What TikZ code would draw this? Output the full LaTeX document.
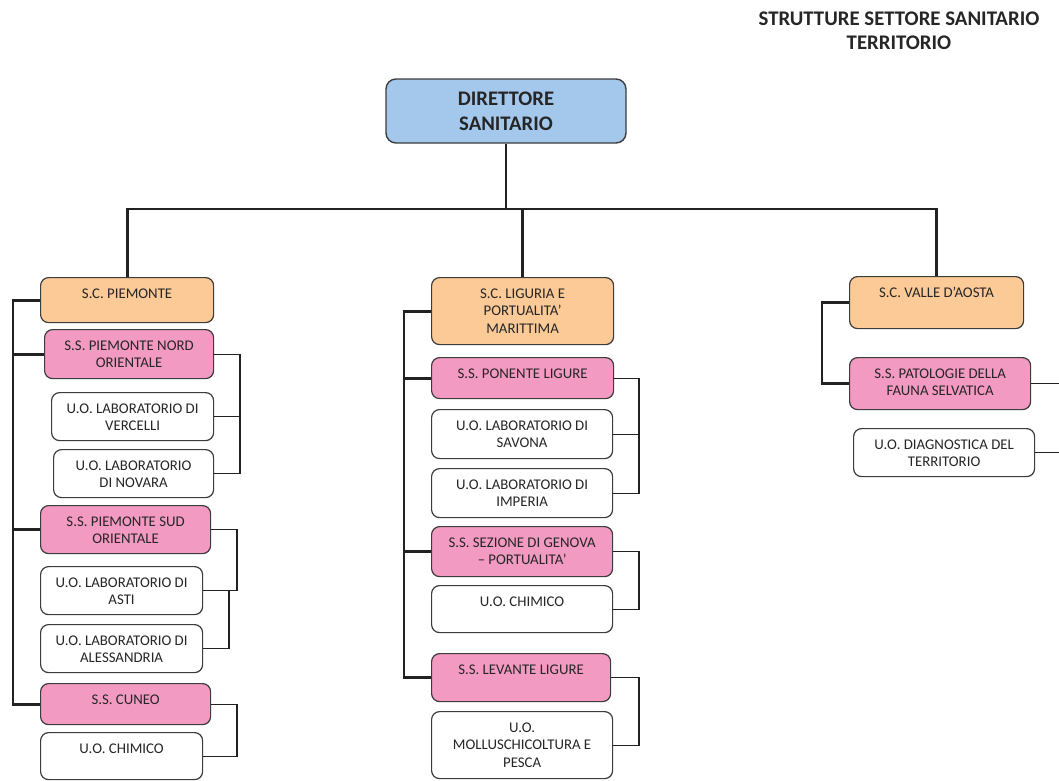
\documentclass[tikz,border=0pt]{standalone}
\usepackage{fontspec}
\setmainfont{Carlito}
\definecolor{dirblue}{HTML}{A3C8EC}
\definecolor{scorange}{HTML}{FBCA96}
\definecolor{sspink}{HTML}{F39AC2}
\definecolor{edge}{HTML}{3C3C3C}
\definecolor{ink}{HTML}{262626}
\definecolor{wire}{HTML}{222222}

% box from (x1,y1) to (x2,y2), text hung from the top edge
\newcommand\orgbox[7]{%
  \pgfmathsetmacro\bw{#5-#3}\pgfmathsetmacro\bh{#6-#4}%
  \node[#2, anchor=north west, inner sep=0pt] (#1) at (#3,#4)
    {\parbox[t][\bh pt][t]{\bw pt}{\centering\rule{0pt}{21pt}#7}};}

\begin{document}
\begin{tikzpicture}[x=1pt,y=-1pt,
  unit/.style={draw=edge, line width=1.2pt, rounded corners=8pt, fill=white,
    text=ink, font=\fontsize{14.8}{17.2}\selectfont},
  scbox/.style={unit, fill=scorange},
  ssbox/.style={unit, fill=sspink},
  uobox/.style={unit},
  trunk/.style={draw=wire, line width=2.8pt},
  twig/.style={draw=wire, line width=1.2pt}]
\useasboundingbox (0,0) rectangle (1059,780);

% heading
\node[font=\fontsize{20.8}{24}\selectfont\bfseries, text=ink, align=center] (title) at (899,31)
  {STRUTTURE SETTORE SANITARIO\\TERRITORIO};

% top of the chart
\node[draw=edge, line width=1.4pt, rounded corners=10pt, fill=dirblue, text=ink,
  minimum width=240pt, minimum height=64pt, align=center,
  font=\fontsize{20.7}{25}\selectfont\bfseries] (dir) at (506,111)
  {DIRETTORE\\SANITARIO};

% Piemonte
\orgbox{pc}{scbox}{40}{277}{213}{322}{S.C. PIEMONTE}
\orgbox{no}{ssbox}{44}{329}{213}{378}{S.S. PIEMONTE NORD\\ORIENTALE}
\orgbox{ve}{uobox}{51}{392}{213}{440}{U.O. LABORATORIO DI\\VERCELLI}
\orgbox{nv}{uobox}{53}{449}{213}{497}{U.O. LABORATORIO\\DI NOVARA}
\orgbox{so}{ssbox}{40}{505}{210}{553}{S.S. PIEMONTE SUD\\ORIENTALE}
\orgbox{as}{uobox}{40}{566}{202}{614}{U.O. LABORATORIO DI\\ASTI}
\orgbox{al}{uobox}{40}{624}{202}{672}{U.O. LABORATORIO DI\\ALESSANDRIA}
\orgbox{cu}{ssbox}{40}{683}{210}{724}{S.S. CUNEO}
\orgbox{cha}{uobox}{40}{732}{202}{779}{U.O. CHIMICO}

% Liguria
\orgbox{lg}{scbox}{431}{277}{613}{344}{S.C. LIGURIA E\\PORTUALITA’\\MARITTIMA}
\orgbox{po}{ssbox}{431}{357}{613}{398}{S.S. PONENTE LIGURE}
\orgbox{sa}{uobox}{431}{409}{612}{458}{U.O. LABORATORIO DI\\SAVONA}
\orgbox{im}{uobox}{431}{468}{612}{517}{U.O. LABORATORIO DI\\IMPERIA}
\orgbox{ge}{ssbox}{431}{526}{612}{576}{S.S. SEZIONE DI GENOVA\\– PORTUALITA’}
\orgbox{chb}{uobox}{431}{585}{612}{632}{U.O. CHIMICO}
\orgbox{le}{ssbox}{431}{653}{610}{701}{S.S. LEVANTE LIGURE}
\orgbox{mo}{uobox}{431}{711}{612}{778}{U.O.\\MOLLUSCHICOLTURA E\\PESCA}

% Valle d'Aosta
\orgbox{va}{scbox}{849}{276}{1023}{328}{S.C. VALLE D’AOSTA}
\orgbox{pa}{ssbox}{849}{357}{1030}{409}{S.S. PATOLOGIE DELLA\\FAUNA SELVATICA}
\orgbox{di}{uobox}{853}{428}{1034}{476}{U.O. DIAGNOSTICA DEL\\TERRITORIO}

% guide lines
\coordinate (bus) at (0,209);
\coordinate (lsp) at (13,0);
\coordinate (msp) at (404,0);
\coordinate (rsp) at (822,0);
\coordinate (ba) at (240,0);
\coordinate (bb) at (237,0);
\coordinate (bc) at (229,0);
\coordinate (bm) at (639,0);
\coordinate (rim) at (1070,0);

% main branches
\draw[trunk] (dir.south) -- (dir.south |- bus);
\draw[trunk] (pc.north) |- (va.north |- bus) -- (va.north);
\draw[trunk] (lg.north) -- (lg.north |- bus);

% Piemonte spine
\draw[trunk] (pc.west) -- (lsp |- pc.west) |- (cu.west);
\draw[trunk] (no.west) -- (lsp |- no.west);
\draw[trunk] (so.west) -- (lsp |- so.west);

\draw[twig] (no.east) -- (ba |- no.east) |- (nv.east);
\draw[twig] (ve.east) -- (ba |- ve.east);
\draw[twig] (so.east) -- (bb |- so.east) |- (as.east);
\draw[twig] (bc |- as.east) |- (al.east);
\draw[twig] (cu.east) -- (bb |- cu.east) |- (cha.east);

% Liguria spine
\draw[trunk] (lg.west) -- (msp |- lg.west) |- (le.west);
\draw[trunk] (po.west) -- (msp |- po.west);
\draw[trunk] (ge.west) -- (msp |- ge.west);

\draw[twig] (po.east) -- (bm |- po.east) |- (im.east);
\draw[twig] (sa.east) -- (bm |- sa.east);
\draw[twig] (ge.east) -- (bm |- ge.east) |- (chb.east);
\draw[twig] (le.east) -- (bm |- le.east) |- (mo.east);

% Valle d'Aosta spine
\draw[trunk] (va.west) -- (rsp |- va.west) |- (pa.west);
\draw[twig] (pa.east) -- (rim |- pa.east);
\draw[twig] (di.east) -- (rim |- di.east);
\end{tikzpicture}
\end{document}
